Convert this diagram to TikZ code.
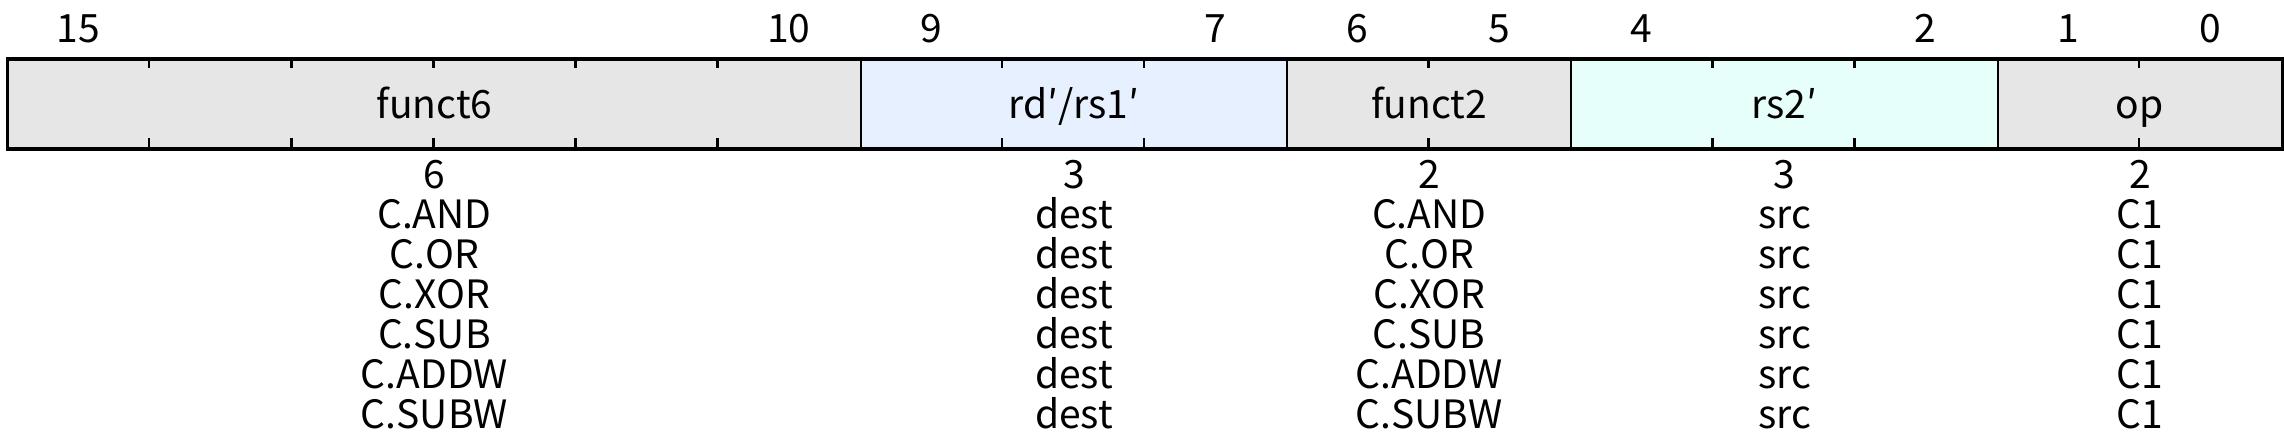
\documentclass[tikz,border=0pt]{standalone}
\usepackage{fontspec}
\setmainfont{Noto Sans CJK JP}
\definecolor{fgray}{RGB}{230,230,230}
\definecolor{fblue}{RGB}{230,240,255}
\definecolor{fcyan}{RGB}{230,255,250}
\begin{document}
\begin{tikzpicture}[x=1pt,y=-1pt,
  field/.style={draw=black,line width=2pt,inner sep=0pt,minimum height=88pt,anchor=north west,
    text height=28pt,text depth=0pt,font=\fontsize{39}{40}\selectfont},
  bitnum/.style={anchor=base,inner sep=0pt,font=\fontsize{39}{40}\selectfont},
  lbl/.style={anchor=base,inner sep=0pt,font=\fontsize{39}{40}\selectfont},
  tick/.style={line width=2.5pt}]
\useasboundingbox (0,0) rectangle (2284,444);
\def\bw{142.125}
% fields
\node[field,fill=fgray,minimum width=6*\bw pt] (f6) at (7,59) {funct6};
\node[field,fill=fblue,minimum width=3*\bw pt] (rd) at (7+6*\bw,59) {rd′/rs1′};
\node[field,fill=fgray,minimum width=2*\bw pt] (f2) at (7+9*\bw,59) {funct2};
\node[field,fill=fcyan,minimum width=3*\bw pt] (rs) at (7+11*\bw,59) {rs2′};
\node[field,fill=fgray,minimum width=2*\bw pt] (op) at (7+14*\bw,59) {op};
\draw[line width=3pt] (f6.north west) rectangle (op.south east);
% ticks
\foreach \i in {1,2,3,4,5,7,8,10,12,13,15}{
  \draw[tick] (7+\i*\bw,59) -- (7+\i*\bw,68);
  \draw[tick] (7+\i*\bw,147) -- (7+\i*\bw,138);
}
% bit numbers
\foreach \b in {15,10,9,7,6,5,4,2,1,0}{
  \node[bitnum] (b\b) at (7+15.5*\bw-\b*\bw,43) {\b};
}
% descriptions
\foreach \t [count=\i from 0] in {6,C.AND,C.OR,C.XOR,C.SUB,C.ADDW,C.SUBW}
  \node[lbl] (da\i) at (f6.south |- 0,188+40*\i) {\t};
\foreach \t [count=\i from 0] in {3,dest,dest,dest,dest,dest,dest}
  \node[lbl] (db\i) at (rd.south |- 0,188+40*\i) {\t};
\foreach \t [count=\i from 0] in {2,C.AND,C.OR,C.XOR,C.SUB,C.ADDW,C.SUBW}
  \node[lbl] (dc\i) at (f2.south |- 0,188+40*\i) {\t};
\foreach \t [count=\i from 0] in {3,src,src,src,src,src,src}
  \node[lbl] (dd\i) at (rs.south |- 0,188+40*\i) {\t};
\foreach \t [count=\i from 0] in {2,C1,C1,C1,C1,C1,C1}
  \node[lbl] (de\i) at (op.south |- 0,188+40*\i) {\t};
\end{tikzpicture}
\end{document}
